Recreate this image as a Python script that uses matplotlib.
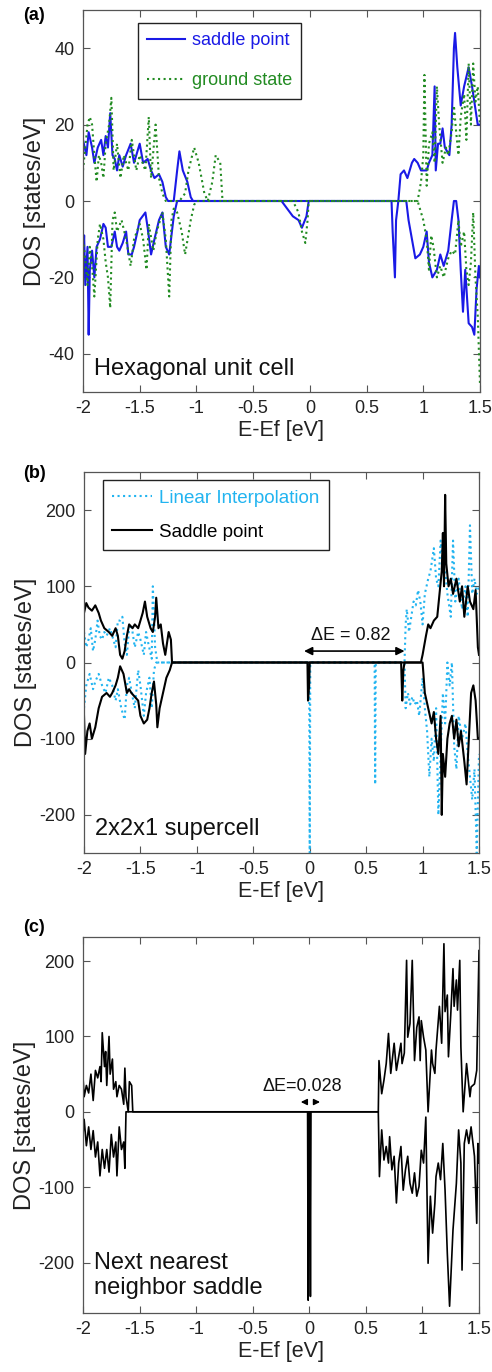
import numpy as np
import matplotlib
matplotlib.use('Agg')
import matplotlib.pyplot as plt

plt.rcParams['font.family'] = ['Liberation Sans', 'DejaVu Sans']
plt.rcParams['axes.unicode_minus'] = False

# ---- panel (a): hexagonal unit cell ----
a_sp_up_x = [-2, -1.97, -1.95, -1.92, -1.9, -1.87, -1.84, -1.82, -1.8, -1.78, -1.76, -1.74, -1.72, -1.7, -1.68,
             -1.65, -1.62, -1.58, -1.55, -1.5, -1.47, -1.43, -1.4, -1.37, -1.33, -1.3, -1.27, -1.25, -1.2, -1.17,
             -1.15, -1.12, -1.08, -1.05, -1.03, 0.78, 0.8, 0.83, 0.86, 0.9, 0.92, 0.95, 0.98, 1.0, 1.03,
             1.05, 1.08, 1.1, 1.11, 1.13, 1.15, 1.17, 1.19, 1.21, 1.23, 1.25, 1.27, 1.28, 1.3, 1.33,
             1.36, 1.4, 1.43, 1.46, 1.48, 1.5]
a_sp_up_y = [16, 12, 18, 14, 10, 14, 16, 12, 17, 14, 23, 12, 11, 8, 12,
             9, 12, 15, 10, 15, 10, 11, 8, 6, 7, 5, 1, 0, 0, 8,
             13, 8, 5, 1, 0, 0, 7, 8, 6, 10, 11, 10, 8, 8, 8,
             10, 12, 30, 8, 15, 15, 19, 14, 13, 12, 20, 40, 44, 35, 25,
             30, 35, 30, 24, 20, 20]
a_sp_dn_x = [-2, -1.99, -1.98, -1.96, -1.95, -1.94, -1.92, -1.9, -1.88, -1.85, -1.82, -1.8, -1.78, -1.75, -1.72,
             -1.7, -1.68, -1.65, -1.62, -1.6, -1.57, -1.55, -1.52, -1.5, -1.45, -1.43, -1.4, -1.37, -1.33, -1.3,
             -1.27, -1.24, -1.2, -1.17, -0.25, -0.2, -0.15, -0.1, -0.07, -0.03, -0.01, 0.72, 0.73, 0.75, 0.76,
             0.78, 0.85, 0.87, 0.9, 0.93, 0.97, 1.0, 1.03, 1.05, 1.08, 1.12, 1.15, 1.18, 1.22, 1.25,
             1.27, 1.29, 1.31, 1.33, 1.35, 1.37, 1.4, 1.43, 1.45, 1.47, 1.49, 1.5]
a_sp_dn_y = [-15, -9, -22, -12, -35, -18, -13, -20, -12, -10, -6, -7, -12, -12, -8,
             -12, -13, -11, -8, -14, -14, -12, -8, -5, -3, -7, -14, -10, -5, -3,
             -12, -14, -4, 0, 0, -2, -4, -5, -7, -4, 0, 0, -8, -20, -5,
             0, 0, -5, -10, -15, -14, -12, -8, -16, -20, -18, -14, -17, -13, -5,
             0, 0, -5, -18, -29, -18, -32, -33, -35, -23, -17, -20]
a_gs_up_x = [-2, -1.98, -1.96, -1.94, -1.92, -1.9, -1.88, -1.86, -1.84, -1.82, -1.8, -1.77, -1.75, -1.73, -1.7,
             -1.67, -1.64, -1.6, -1.57, -1.53, -1.5, -1.45, -1.42, -1.4, -1.36, -1.33, -1.3, -1.27, -1.15, -1.1,
             -1.07, -1.02, -0.98, -0.93, -0.9, -0.86, -0.83, -0.79, -0.77, 0.95, 0.98, 1.0, 1.01, 1.03, 1.05,
             1.08, 1.1, 1.12, 1.14, 1.17, 1.2, 1.22, 1.25, 1.27, 1.29, 1.31, 1.33, 1.36, 1.38, 1.4,
             1.42, 1.44, 1.46, 1.48, 1.5]
a_gs_up_y = [8, 14, 20, 22, 20, 12, 5, 12, 10, 6, 15, 20, 27, 8, 15,
             6, 12, 8, 16, 8, 12, 8, 22, 6, 20, 6, 2, 0, 0, 2,
             8, 14, 10, 2, 0, 5, 12, 10, 0, 0, 5, 12, 33, 4, 15,
             18, 10, 30, 20, 10, 14, 12, 18, 25, 18, 12, 22, 28, 16, 36,
             20, 36, 26, 30, 20]
a_gs_dn_x = [-2, -1.98, -1.96, -1.94, -1.92, -1.9, -1.87, -1.85, -1.82, -1.8, -1.78, -1.76, -1.74, -1.72, -1.7,
             -1.66, -1.62, -1.58, -1.55, -1.5, -1.47, -1.44, -1.42, -1.38, -1.35, -1.3, -1.27, -1.24, -1.22, -1.2,
             -1.17, -1.13, -1.1, -1.05, -1.02, -1.0, -0.15, -0.1, -0.07, -0.04, -0.02, -0.01, 0.95, 1.0, 1.03,
             1.05, 1.07, 1.09, 1.12, 1.15, 1.18, 1.22, 1.25, 1.28, 1.31, 1.33, 1.36, 1.38, 1.4, 1.42,
             1.44, 1.46, 1.48, 1.5]
a_gs_dn_y = [-10, -15, -22, -12, -17, -25, -10, -6, -10, -16, -20, -28, -5, -3, -8,
             -5, -10, -17, -10, -6, -10, -18, -6, -13, -8, -3, -10, -25, -5, -2,
             -3, -8, -14, -5, -1, 0, 0, -3, -8, -11, -5, 0, 0, -5, -10,
             -18, -9, -12, -20, -17, -20, -15, -13, -14, -5, -12, -8, -18, -22, -16,
             -3, -20, -30, -48]

# ---- panel (b): 2x2x1 supercell ----
b_li_up_x = [-2, -1.98, -1.96, -1.94, -1.92, -1.9, -1.88, -1.86, -1.84, -1.82, -1.8, -1.77, -1.74, -1.72, -1.7,
             -1.68, -1.66, -1.64, -1.62, -1.6, -1.58, -1.55, -1.52, -1.5, -1.47, -1.45, -1.43, -1.4, -1.39, -1.37,
             -1.35, -1.2, 0.84, 0.85, 0.86, 0.88, 0.9, 0.92, 0.94, 0.96, 0.98, 1.0, 1.02, 1.05, 1.07,
             1.1, 1.12, 1.14, 1.16, 1.18, 1.2, 1.22, 1.25, 1.27, 1.29, 1.32, 1.35, 1.38, 1.4, 1.42,
             1.44, 1.46, 1.48, 1.5]
b_li_up_y = [40, 20, 30, 45, 15, 30, 55, 35, 30, 40, 35, 45, 30, 20, 55,
             55, 60, 25, 10, 45, 50, 20, 40, 30, 10, 40, 25, 5, 100, 20,
             0, 0, 0, 50, 70, 40, 60, 80, 75, 95, 80, 50, 90, 110, 120,
             150, 110, 100, 160, 130, 120, 90, 60, 160, 80, 110, 70, 100, 60, 180,
             90, 110, 90, 100]
b_li_dn_x = [-2, -1.98, -1.95, -1.92, -1.9, -1.87, -1.84, -1.81, -1.78, -1.75, -1.72, -1.7, -1.67, -1.64, -1.62,
             -1.6, -1.57, -1.55, -1.52, -1.5, -1.47, -1.45, -1.42, -1.4, -1.38, -1.36, -0.005, 0.0, 0.005, 0.575,
             0.58, 0.585, 0.84, 0.85, 0.87, 0.89, 0.91, 0.93, 0.95, 0.97, 1.0, 1.02, 1.04, 1.06, 1.08,
             1.1, 1.12, 1.14, 1.16, 1.18, 1.2, 1.22, 1.24, 1.26, 1.28, 1.3, 1.32, 1.35, 1.38, 1.4,
             1.42, 1.44, 1.46, 1.48, 1.5]
b_li_dn_y = [-60, -30, -15, -35, -25, -15, -30, -40, -20, -30, -50, -35, -60, -75, -30,
             -20, -45, -60, -10, -30, -70, -40, -20, -60, -10, 0, 0, -250, 0, 0,
             -160, 0, 0, -60, -40, -55, -45, -55, -50, -70, -20, -60, -90, -150, -100,
             -130, -60, -200, -120, -40, -80, 0, -30, 0, -110, -140, -70, -100, -80, -120,
             -150, -180, -140, -250, -120]
b_sp_up_x = [-2, -1.98, -1.96, -1.93, -1.9, -1.87, -1.85, -1.82, -1.78, -1.75, -1.72, -1.7, -1.68, -1.66, -1.64,
             -1.62, -1.6, -1.57, -1.55, -1.52, -1.5, -1.48, -1.46, -1.44, -1.41, -1.39, -1.37, -1.36, -1.34, -1.32,
             -1.3, -1.28, -1.25, -1.23, -1.22, 0.985, 1.0, 1.03, 1.05, 1.07, 1.1, 1.13, 1.15, 1.17, 1.18,
             1.19, 1.2, 1.21, 1.23, 1.25, 1.27, 1.3, 1.33, 1.35, 1.37, 1.4, 1.42, 1.45, 1.47, 1.49, 1.5]
b_sp_up_y = [65, 78, 72, 68, 75, 65, 55, 45, 40, 35, 45, 35, 10, 5, 15,
             35, 50, 45, 50, 45, 55, 65, 80, 60, 45, 40, 60, 85, 45, 50,
             25, 10, 40, 30, 0, 0, 10, 35, 50, 45, 55, 60, 90, 120, 170,
             100, 220, 130, 100, 110, 90, 110, 80, 100, 60, 100, 80, 70, 95, 20, 10]
b_sp_dn_x = [-2, -1.99, -1.97, -1.95, -1.93, -1.9, -1.87, -1.84, -1.8, -1.77, -1.75, -1.72, -1.7, -1.68, -1.65,
             -1.62, -1.6, -1.58, -1.55, -1.52, -1.5, -1.47, -1.44, -1.42, -1.4, -1.38, -1.36, -1.35, -1.33, -1.3,
             -1.27, -1.24, -1.22, -0.02, -0.015, -0.005, 0.0, 0.81, 0.82, 0.83, 0.84, 1.0, 1.02, 1.05, 1.08,
             1.1, 1.12, 1.14, 1.16, 1.17, 1.18, 1.2, 1.22, 1.24, 1.26, 1.28, 1.3, 1.32, 1.34, 1.37,
             1.39, 1.41, 1.43, 1.45, 1.47, 1.49, 1.5]
b_sp_dn_y = [-70, -120, -90, -80, -100, -85, -60, -45, -40, -45, -40, -30, -20, -5, -15,
             -40, -35, -40, -45, -50, -70, -80, -75, -60, -40, -25, -55, -85, -60, -40,
             -20, -10, 0, 0, -50, -30, 0, 0, -50, -10, 0, 0, -40, -60, -80,
             -65, -100, -120, -70, -200, -120, -150, -100, -80, -70, -100, -75, -110, -90, -130,
             -160, -100, -40, -30, -50, -100, -100]

# ---- panel (c): next nearest neighbor saddle ----
c_up_x = [-2.0, -1.99, -1.97, -1.95, -1.93, -1.91, -1.89, -1.87, -1.85, -1.84, -1.83, -1.81, -1.8, -1.79, -1.77,
          -1.76, -1.74, -1.73, -1.71, -1.7, -1.68, -1.66, -1.64, -1.63, -1.62, -1.6, -1.59, -1.57, -1.56, 0.61,
          0.616, 0.64, 0.66, 0.68, 0.70, 0.72, 0.75, 0.77, 0.79, 0.81, 0.82, 0.84, 0.86, 0.87, 0.89,
          0.91, 0.93, 0.95, 0.97, 0.98, 0.99, 1.01, 1.03, 1.05, 1.08, 1.09, 1.11, 1.12, 1.15, 1.17,
          1.19, 1.2, 1.22, 1.23, 1.25, 1.27, 1.28, 1.3, 1.31, 1.33, 1.34, 1.36, 1.39, 1.42, 1.43,
          1.46, 1.48, 1.5]
c_up_y = [46, 20, 35, 25, 50, 15, 55, 45, 60, 40, 105, 60, 80, 35, 100,
          50, 70, 30, 40, 20, 35, 30, 10, 58, 20, 0, 40, 35, 0, 0,
          68, 24, 42, 64, 104, 51, 91, 55, 73, 91, 64, 78, 201, 99, 117,
          201, 68, 112, 126, 68, 121, 99, 82, 0, 82, 64, 51, 82, 140, 91,
          223, 133, 155, 73, 128, 190, 140, 175, 135, 201, 86, 0, 64, 20, 33,
          37, 55, 214]
c_dn_x = [-2.0, -1.99, -1.97, -1.95, -1.93, -1.91, -1.89, -1.87, -1.85, -1.83, -1.81, -1.79, -1.77, -1.75, -1.73,
          -1.71, -1.7, -1.68, -1.66, -1.64, -1.63, -1.62, -0.015, -0.01, -0.005, 0.005, 0.01, 0.015, 0.61,
          0.62, 0.64, 0.66, 0.68, 0.70, 0.71, 0.73, 0.75, 0.77, 0.79, 0.81, 0.83, 0.85, 0.87, 0.89,
          0.91, 0.93, 0.95, 0.97, 0.99, 1.01, 1.03, 1.05, 1.07, 1.09, 1.11, 1.12, 1.14, 1.16, 1.18,
          1.2, 1.22, 1.24, 1.27, 1.3, 1.32, 1.34, 1.35, 1.37, 1.39, 1.41, 1.43, 1.46, 1.48, 1.49, 1.5]
c_dn_y = [-30, -10, -45, -20, -50, -25, -60, -40, -85, -50, -75, -50, -80, -30, -60,
          -40, -85, -20, -50, -40, -75, 0, 0, -250, 0, 0, -245, 0, 0,
          -86, -24, -64, -46, -68, -33, -77, -59, -121, -68, -46, -104, -77, -59, -95,
          -108, -81, -112, -99, -51, -68, -7, -201, -112, -161, -121, -86, -68, -90, -42,
          -104, -188, -258, -157, -95, -24, -68, -210, -42, -24, -42, -20, -59, -148, -42, -68]

x_ticks = [-2, -1.5, -1, -0.5, 0, 0.5, 1, 1.5]
x_ticklabels = ['-2', '-1.5', '-1', '-0.5', '0', '0.5', '1', '1.5']

TICK = 13
LAB = 17
W, H = 492, 1372


def style_axes(ax, ylim, yticks):
    ax.set_xlim(-2, 1.5)
    ax.set_ylim(*ylim)
    ax.set_xticks(x_ticks)
    ax.set_xticklabels(x_ticklabels)
    ax.set_yticks(yticks)
    ax.set_yticklabels([str(v) for v in yticks])
    ax.tick_params(direction='in', top=True, right=True, length=5, width=0.8,
                   labelsize=TICK, colors='#555555', labelcolor='#222222', pad=6)
    for s in ax.spines.values():
        s.set_color('#555555')
        s.set_linewidth(0.9)
    ax.set_xlabel('E-Ef [eV]', fontsize=15.5, color='#222222', labelpad=2)
    ax.set_ylabel('DOS [states/eV]', fontsize=LAB, color='#222222', labelpad=2)


def axrect(l, t, r, b):
    return [l / W, 1 - b / H, (r - l) / W, (b - t) / H]


fig = plt.figure(figsize=(4.92, 13.72), dpi=100)

# (a)
ax1 = fig.add_axes(axrect(83, 10, 480, 392))
l1, = ax1.plot(a_sp_up_x, a_sp_up_y, color='#1a1ae6', lw=1.5, label='saddle point')
ax1.plot(a_sp_dn_x, a_sp_dn_y, color='#1a1ae6', lw=1.5)
l2, = ax1.plot(a_gs_up_x, a_gs_up_y, color='#228b22', lw=1.5, ls=':', label='ground state')
ax1.plot(a_gs_dn_x, a_gs_dn_y, color='#228b22', lw=1.5, ls=':')
style_axes(ax1, (-50, 50), [-40, -20, 0, 20, 40])
leg = ax1.legend(handles=[l1, l2], loc='upper left', bbox_to_anchor=(0.1385, 0.966),
                 borderaxespad=0, fontsize=13, labelcolor='linecolor', fancybox=False,
                 edgecolor='#222222', framealpha=1, handlelength=2.1, labelspacing=1.3,
                 borderpad=0.5, handletextpad=0.4)
leg.get_frame().set_linewidth(1.0)
ax1.text(-1.9, -44, 'Hexagonal unit cell', fontsize=17, va='center', ha='left', color='#111111')

# (b)
ax2 = fig.add_axes(axrect(84, 472, 479, 853))
l3, = ax2.plot(b_li_up_x, b_li_up_y, color='#22b4f0', lw=1.5, ls=':', label='Linear Interpolation')
ax2.plot(b_li_dn_x, b_li_dn_y, color='#22b4f0', lw=1.5, ls=':')
l4, = ax2.plot(b_sp_up_x, b_sp_up_y, color='black', lw=1.5, label='Saddle point')
ax2.plot(b_sp_dn_x, b_sp_dn_y, color='black', lw=1.5)
style_axes(ax2, (-250, 250), [-200, -100, 0, 100, 200])
leg2 = ax2.legend(handles=[l3, l4], loc='upper left', bbox_to_anchor=(0.048, 0.979),
                  borderaxespad=0, fontsize=13.5, labelcolor='linecolor', fancybox=False,
                  edgecolor='#222222', framealpha=1, handlelength=2.1, labelspacing=0.9,
                  borderpad=0.5, handletextpad=0.4)
leg2.get_frame().set_linewidth(1.0)
ax2.annotate('', xy=(-0.05, 15), xytext=(0.84, 15),
             arrowprops=dict(arrowstyle='<|-|>', color='black', lw=1.2, mutation_scale=12,
                             shrinkA=0, shrinkB=0))
ax2.text(0.36, 36, '\u0394E = 0.82', fontsize=13, ha='center', va='center', color='#111111')
ax2.text(-1.9, -219, '2x2x1 supercell', fontsize=17, va='center', ha='left', color='#111111')

# (c)
ax3 = fig.add_axes(axrect(83, 937, 479, 1313))
ax3.plot(c_up_x, c_up_y, color='black', lw=1.2)
ax3.plot(c_dn_x, c_dn_y, color='black', lw=1.2)
style_axes(ax3, (-267, 232), [-200, -100, 0, 100, 200])
ax3.annotate('', xy=(-0.075, 13), xytext=(-0.02, 13),
             arrowprops=dict(arrowstyle='-|>', color='black', lw=1.0, mutation_scale=9,
                             shrinkA=0, shrinkB=0))
ax3.annotate('', xy=(0.095, 13), xytext=(0.04, 13),
             arrowprops=dict(arrowstyle='-|>', color='black', lw=1.0, mutation_scale=9,
                             shrinkA=0, shrinkB=0))
ax3.text(-0.06, 34, '\u0394E=0.028', fontsize=13, ha='center', va='center', color='#111111')
ax3.text(-1.9, -217, 'Next nearest\nneighbor saddle', fontsize=17, va='center', ha='left',
         color='#111111', linespacing=1.15)

# panel letters
fig.text(23 / W, 1 - 15 / H, '(a)', fontsize=13, fontweight='bold', va='center', ha='left')
fig.text(23 / W, 1 - 474 / H, '(b)', fontsize=13, fontweight='bold', va='center', ha='left')
fig.text(23 / W, 1 - 927 / H, '(c)', fontsize=13, fontweight='bold', va='center', ha='left')

fig.savefig('out.png', dpi=100)
